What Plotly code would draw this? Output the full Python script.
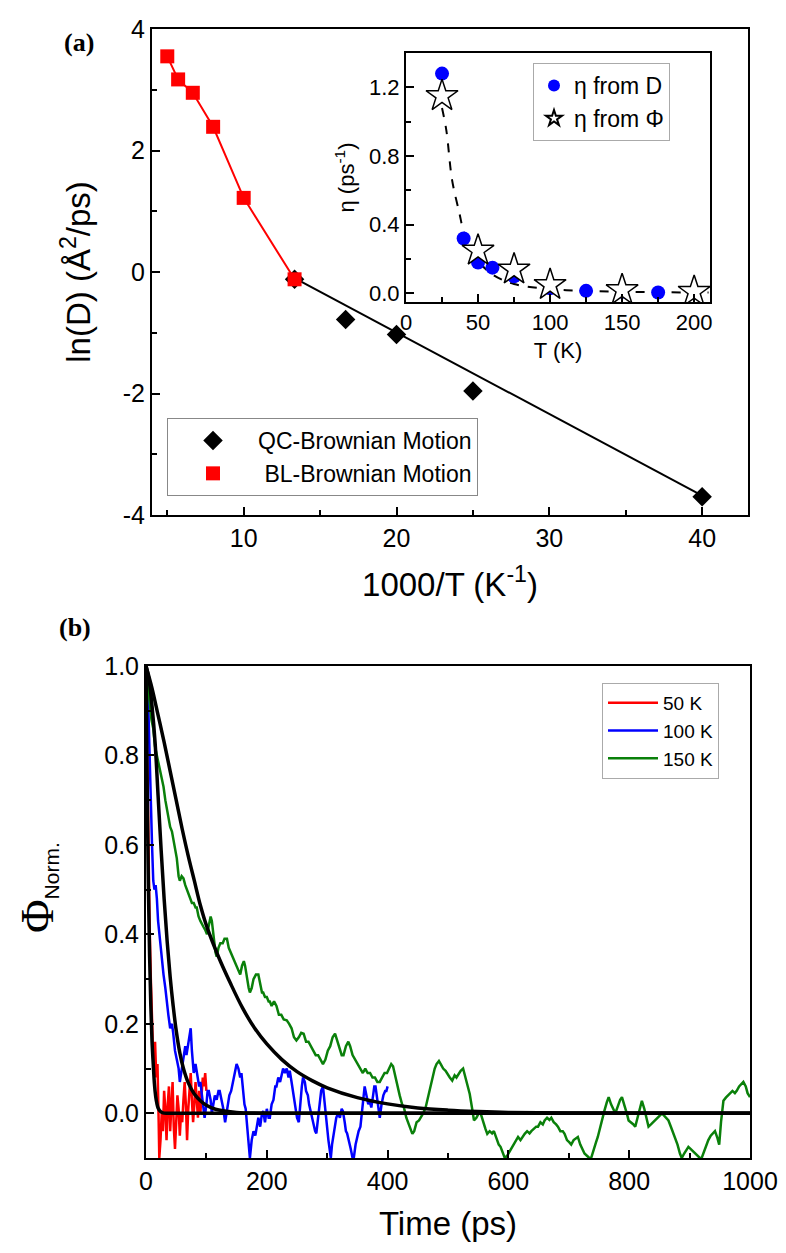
import plotly.graph_objects as go

# ---------------- Panel (a) data ----------------
QC_X = [13.33, 16.67, 20.0, 25.0, 40.0]
QC_Y = [-0.12, -0.78, -1.03, -1.96, -3.70]
QC_FIT_X = [13.33, 40.0]
QC_FIT_Y = [-0.10, -3.68]

BL_X = [5.0, 5.71, 6.67, 8.0, 10.0, 13.33]
BL_Y = [3.55, 3.17, 2.95, 2.39, 1.22, -0.12]

Y_TICKS = [-4, -2, 0, 2, 4]
Y_TICK_TEXT = ["-4", "-2", "0", "2", "4"]

# inset
ETA_D_T = [25, 40, 50, 60, 75, 100, 125, 150, 175, 200]
ETA_D_V = [1.28, 0.32, 0.18, 0.15, 0.10, 0.03, 0.015, 0.01, 0.005, 0.005]
ETA_PHI_T = [25, 50, 75, 100, 150, 200]
ETA_PHI_V = [1.15, 0.25, 0.14, 0.05, 0.02, 0.01]
ETA_FIT_T = [25, 28, 32, 37, 40, 45, 50, 60, 75, 100, 125, 150, 175, 200, 210]
ETA_FIT_V = [1.08, 0.95, 0.66, 0.47, 0.36, 0.26, 0.19, 0.11, 0.055, 0.025, 0.015, 0.01, 0.007, 0.005, 0.005]

# ---------------- Panel (b) data ----------------
RED = [(0, 1.0), (2, 0.78), (4, 0.58), (6, 0.42), (8, 0.30), (10, 0.20), (12, 0.12), (14, 0.10),
       (15, 0.16), (17, 0.08), (19, 0.11), (21, -0.02), (22, -0.10), (24, -0.06), (26, 0.0),
       (28, -0.04), (30, 0.05), (32, 0.01), (34, -0.06), (36, 0.02), (38, 0.06), (40, -0.04),
       (42, 0.01), (44, 0.07), (46, -0.03), (48, -0.08), (50, -0.02), (52, 0.04), (54, 0.01),
       (56, -0.05), (58, 0.0), (60, -0.02), (62, 0.03), (64, 0.07), (66, 0.02), (68, -0.06),
       (70, 0.01), (72, 0.05), (74, 0.09), (76, 0.03), (78, -0.02), (80, 0.02), (82, 0.07),
       (84, 0.03), (86, -0.01), (88, 0.05), (90, 0.0), (92, 0.04), (94, 0.08), (96, 0.06),
       (98, 0.09), (100, 0.05)]

BLUE = [(0, 1.0), (2, 0.95), (4, 0.9), (6, 0.8), (8, 0.68), (10, 0.6), (12, 0.52), (14, 0.5),
        (16, 0.51), (18, 0.48), (20, 0.43), (23, 0.39), (26, 0.34), (29, 0.31), (32, 0.28),
        (34, 0.25), (37, 0.22), (40, 0.19), (43, 0.2), (45, 0.18), (48, 0.14), (51, 0.12),
        (54, 0.1), (56, 0.07), (59, 0.1), (62, 0.12), (65, 0.15), (67, 0.13), (70, 0.16),
        (72, 0.18), (74, 0.19), (76, 0.14), (79, 0.09), (82, 0.11), (85, 0.085), (88, 0.06),
        (90, 0.07), (93, 0.04), (95, 0.02), (97, -0.01), (100, 0.02), (102, 0.05), (104, 0.05),
        (107, 0.03), (109, 0.0), (111, 0.02), (114, 0.04), (117, 0.03), (120, 0.05), (122, 0.05),
        (125, 0.03), (128, 0.01), (131, -0.02), (133, 0.0), (136, 0.02), (138, 0.04), (141, 0.05),
        (144, 0.07), (147, 0.09), (150, 0.11), (153, 0.1), (156, 0.08), (158, 0.09), (161, 0.05),
        (163, 0.02), (165, 0.01), (168, -0.04), (170, -0.07), (172, -0.1), (175, -0.06),
        (178, -0.04), (181, -0.05), (183, -0.03), (186, -0.01), (189, -0.03), (192, 0.0),
        (194, 0.005), (197, -0.02), (200, 0.01), (203, -0.01), (205, -0.01), (208, 0.02),
        (211, 0.03), (214, 0.06), (216, 0.06), (219, 0.08), (222, 0.07), (225, 0.09), (227, 0.1),
        (230, 0.09), (233, 0.1), (236, 0.08), (238, 0.095), (241, 0.07), (243, 0.05), (245, 0.035),
        (248, 0.01), (250, -0.01), (253, -0.02), (255, 0.02), (258, 0.06), (260, 0.08), (263, 0.07),
        (265, 0.05), (268, 0.04), (270, 0.02), (273, 0.0), (275, -0.01), (278, -0.03), (280, -0.04),
        (282, -0.045), (285, -0.01), (288, 0.03), (290, 0.05), (293, 0.06), (295, 0.03), (297, 0.0),
        (300, -0.04), (302, -0.06), (304, -0.08), (306, -0.1), (308, -0.07), (311, -0.04),
        (313, -0.02), (315, -0.01), (318, 0.0), (321, -0.01), (324, 0.01), (326, 0.005),
        (329, -0.02), (331, -0.04), (333, -0.045), (336, -0.06), (339, -0.08), (342, -0.1),
        (344, -0.1), (347, -0.07), (350, -0.05), (352, -0.04), (355, -0.03), (358, 0.01),
        (360, 0.04), (362, 0.06), (365, 0.04), (368, 0.02), (370, 0.03), (373, 0.013), (376, 0.04),
        (378, 0.06), (380, 0.06), (383, 0.03), (385, 0.0), (387, -0.01), (390, 0.02), (393, 0.04),
        (396, 0.05), (398, 0.05), (400, 0.06)]

GREEN = [(0, 1.0), (3, 0.96), (6, 0.91), (9, 0.88), (12, 0.86), (15, 0.82), (18, 0.80), (21, 0.78),
         (24, 0.76), (26, 0.745), (29, 0.73), (32, 0.7), (34, 0.685), (37, 0.66), (40, 0.64),
         (43, 0.63), (46, 0.61), (48, 0.596), (51, 0.57), (54, 0.53), (56, 0.52), (59, 0.53),
         (62, 0.525), (65, 0.51), (68, 0.5), (71, 0.49), (73, 0.484), (76, 0.47), (79, 0.47),
         (82, 0.46), (84, 0.46), (87, 0.44), (90, 0.43), (93, 0.42), (95, 0.417), (98, 0.41),
         (101, 0.4), (104, 0.42), (107, 0.44), (109, 0.43), (112, 0.39), (115, 0.36), (117, 0.35),
         (120, 0.37), (123, 0.38), (127, 0.38), (130, 0.39), (134, 0.39), (137, 0.37), (140, 0.36),
         (143, 0.35), (146, 0.34), (149, 0.33), (152, 0.32), (156, 0.31), (159, 0.33), (162, 0.34),
         (164, 0.33), (167, 0.3), (170, 0.28), (172, 0.27), (175, 0.28), (178, 0.3), (182, 0.31),
         (186, 0.31), (189, 0.29), (192, 0.27), (194, 0.27), (197, 0.26), (200, 0.26), (203, 0.25),
         (205, 0.25), (208, 0.24), (212, 0.25), (216, 0.24), (220, 0.22), (224, 0.22), (228, 0.21),
         (233, 0.208), (237, 0.2), (241, 0.19), (245, 0.17), (249, 0.163), (253, 0.17), (257, 0.18),
         (261, 0.178), (265, 0.16), (269, 0.16), (273, 0.15), (277, 0.14), (281, 0.13), (285, 0.13),
         (289, 0.12), (293, 0.11), (297, 0.12), (301, 0.14), (305, 0.15), (309, 0.17), (313, 0.178),
         (317, 0.16), (321, 0.14), (324, 0.13), (327, 0.13), (331, 0.15), (335, 0.16), (338, 0.15),
         (342, 0.13), (346, 0.12), (350, 0.11), (355, 0.1), (359, 0.09), (363, 0.1), (367, 0.09),
         (371, 0.09), (375, 0.08), (379, 0.08), (383, 0.07), (387, 0.07), (391, 0.08), (395, 0.09),
         (399, 0.09), (403, 0.1), (406, 0.11), (409, 0.105), (413, 0.08), (416, 0.06), (420, 0.04),
         (424, 0.02), (427, 0.013), (431, -0.01), (434, -0.02), (437, -0.03), (441, -0.046),
         (444, -0.04), (448, -0.02), (452, -0.016), (455, -0.01), (459, 0.0), (463, 0.013),
         (466, 0.03), (470, 0.06), (474, 0.08), (478, 0.1), (481, 0.11), (485, 0.117), (488, 0.11),
         (492, 0.1), (496, 0.095), (500, 0.085), (503, 0.08), (507, 0.073), (511, 0.085), (514, 0.08),
         (518, 0.09), (521, 0.095), (525, 0.1), (529, 0.08), (532, 0.06), (536, 0.043), (540, 0.01),
         (543, -0.016), (547, -0.01), (551, 0.0), (554, 0.0), (558, -0.02), (562, -0.035),
         (565, -0.046), (569, -0.04), (573, -0.045), (576, -0.04), (580, -0.055), (584, -0.07),
         (587, -0.075), (591, -0.09), (594, -0.1), (598, -0.095), (602, -0.085), (605, -0.08),
         (609, -0.07), (613, -0.06), (616, -0.053), (620, -0.06), (624, -0.05), (627, -0.046),
         (631, -0.04), (635, -0.045), (638, -0.04), (642, -0.035), (646, -0.03), (649, -0.03),
         (653, -0.02), (657, -0.025), (660, -0.016), (664, -0.01), (668, -0.015), (671, -0.01),
         (675, -0.02), (679, -0.025), (682, -0.03), (686, -0.04), (690, -0.04), (693, -0.046),
         (697, -0.06), (701, -0.065), (704, -0.07), (708, -0.06), (712, -0.055), (715, -0.053),
         (719, -0.07), (723, -0.08), (726, -0.09), (730, -0.095), (734, -0.1), (737, -0.1),
         (741, -0.08), (745, -0.065), (748, -0.053), (752, -0.03), (756, -0.01), (759, 0.006),
         (763, 0.025), (766, 0.036), (770, 0.02), (774, 0.01), (777, 0.0), (781, 0.015), (785, 0.03),
         (788, 0.036), (792, 0.02), (796, 0.0), (799, -0.016), (803, -0.02), (807, -0.025),
         (810, -0.03), (814, -0.01), (818, 0.01), (821, 0.028), (825, 0.01), (829, -0.015),
         (832, -0.03), (836, -0.025), (840, -0.02), (843, -0.016), (847, -0.01), (851, -0.005),
         (854, 0.0), (858, -0.005), (862, -0.01), (865, -0.016), (869, -0.03), (873, -0.045),
         (876, -0.053), (880, -0.07), (884, -0.09), (887, -0.1), (891, -0.09), (895, -0.08),
         (898, -0.075), (902, -0.08), (906, -0.085), (909, -0.09), (913, -0.095), (917, -0.1),
         (920, -0.1), (924, -0.085), (928, -0.07), (931, -0.06), (935, -0.05), (939, -0.045),
         (942, -0.04), (946, -0.055), (949, -0.07), (952, -0.02), (956, 0.028), (960, 0.035),
         (964, 0.04), (967, 0.043), (971, 0.05), (975, 0.045), (978, 0.05), (982, 0.06),
         (986, 0.065), (989, 0.07), (993, 0.06), (996, 0.045), (1000, 0.036)]

FIT50_T = [0, 2, 4, 6, 8, 10, 12, 14, 16, 18, 20, 24, 28, 35, 50, 100, 1000]
FIT50_V = [1.0, 0.72, 0.5, 0.35, 0.24, 0.16, 0.11, 0.065, 0.038, 0.022, 0.012, 0.004, 0.001, 0.0, 0.0, 0.0, 0.0]
FIT100_T = [0, 5, 10, 15, 20, 25, 30, 35, 40, 45, 50, 56, 62, 70, 80, 90, 100, 115, 130, 150, 200, 1000]
FIT100_V = [1.0, 0.97, 0.91, 0.83, 0.71, 0.59, 0.48, 0.385, 0.305, 0.24, 0.185, 0.135, 0.1, 0.068, 0.043,
            0.028, 0.018, 0.009, 0.005, 0.002, 0.0, 0.0]
FIT150_T = [0, 10, 20, 30, 40, 50, 60, 70, 80, 90, 100, 120, 140, 160, 180, 200, 225, 250, 275,
            300, 350, 400, 450, 500, 550, 600, 700, 1000]
FIT150_V = [1.0, 0.95, 0.89, 0.83, 0.765, 0.70, 0.635, 0.575, 0.52, 0.465, 0.42, 0.35, 0.29, 0.235,
            0.19, 0.155, 0.12, 0.093, 0.073, 0.057, 0.035, 0.021, 0.012, 0.007, 0.004, 0.002, 0.0005, 0.0]

SANS = "Liberation Sans, Arial, sans-serif"
SERIF = "Liberation Serif, Times New Roman, serif"
W, H = 786, 1253


def px_x(p):
    return p / W


def px_y(p):
    return 1 - p / H


fig = go.Figure()

# ---- panel (a) ----
fig.add_trace(go.Scatter(x=BL_X, y=BL_Y, mode="lines", line=dict(color="#ff0000", width=2),
                         showlegend=False, xaxis="x", yaxis="y"))
fig.add_trace(go.Scatter(x=QC_FIT_X, y=QC_FIT_Y, mode="lines", line=dict(color="black", width=2),
                         showlegend=False, xaxis="x", yaxis="y"))
fig.add_trace(go.Scatter(x=QC_X, y=QC_Y, mode="markers", name="QC-Brownian Motion",
                         marker=dict(symbol="diamond", size=15, color="black"),
                         xaxis="x", yaxis="y", legend="legend"))
fig.add_trace(go.Scatter(x=BL_X, y=BL_Y, mode="markers", name=" BL-Brownian Motion",
                         marker=dict(symbol="square", size=14, color="#ff0000"),
                         xaxis="x", yaxis="y", legend="legend"))

# ---- inset ----
fig.add_trace(go.Scatter(x=ETA_FIT_T, y=ETA_FIT_V, mode="lines",
                         line=dict(color="black", width=2, dash="dash"), line_shape="spline",
                         showlegend=False, xaxis="x2", yaxis="y2"))
fig.add_trace(go.Scatter(x=ETA_D_T, y=ETA_D_V, mode="markers", name="η from D",
                         marker=dict(symbol="circle", size=14, color="#0000ff"),
                         xaxis="x2", yaxis="y2", legend="legend2"))
fig.add_trace(go.Scatter(x=ETA_PHI_T, y=ETA_PHI_V, mode="markers", name="η from Φ",
                         marker=dict(symbol="star", size=24, color="white",
                                     line=dict(color="black", width=1.5)),
                         xaxis="x2", yaxis="y2", legend="legend2"))

# ---- panel (b) ----
for data, color, name in [(RED, "#ff0000", "50 K"), (BLUE, "#0000ff", "100 K"),
                          (GREEN, "#0a800a", "150 K")]:
    fig.add_trace(go.Scatter(x=[p[0] for p in data], y=[p[1] for p in data], mode="lines",
                             name=name, line=dict(color=color, width=2.5),
                             xaxis="x3", yaxis="y3", legend="legend3"))
for tt, vv in [(FIT50_T, FIT50_V), (FIT100_T, FIT100_V), (FIT150_T, FIT150_V)]:
    fig.add_trace(go.Scatter(x=tt, y=vv, mode="lines", line=dict(color="black", width=3.5),
                             line_shape="spline", showlegend=False, xaxis="x3", yaxis="y3"))


def ax(domain, rng, dtick, minor, anchor, tfs, fmt=None, title=None, tsize=32, standoff=None):
    d = dict(domain=domain, range=rng, dtick=dtick, tick0=0, ticks="inside", ticklen=8,
             tickwidth=2, tickcolor="black", showline=True, linewidth=2, linecolor="black",
             mirror=True, showgrid=False, zeroline=False, anchor=anchor, automargin=False,
             tickfont=dict(family=SANS, size=tfs, color="black"),
             minor=dict(dtick=minor, ticks="inside", ticklen=5, tickwidth=2, tickcolor="black",
                        showgrid=False))
    if fmt:
        d["tickformat"] = fmt
    if title:
        d["title"] = dict(text=title, font=dict(family=SANS, size=tsize, color="black"))
        if standoff is not None:
            d["title"]["standoff"] = standoff
    return d


yaxis_main = ax([px_y(515), px_y(29)], [-4, 4], 2, 1, "x", 25,
                title="ln(D) (Å<sup>2</sup>/ps)", tsize=33, standoff=22)
yaxis_main.update(tickvals=Y_TICKS, ticktext=Y_TICK_TEXT)

fig.update_layout(
    width=W, height=H, margin=dict(l=0, r=0, t=0, b=0, autoexpand=False),
    paper_bgcolor="white", plot_bgcolor="rgba(0,0,0,0)",
    xaxis=ax([px_x(152), px_x(748)], [4, 43], 10, 5, "y", 25,
             title="1000/T (K<sup>-1</sup>)", tsize=33, standoff=22),
    yaxis=yaxis_main,
    xaxis2=ax([px_x(406), px_x(710)], [0, 211], 50, 25, "y2", 22,
              title="T (K)", tsize=22, standoff=8),
    yaxis2=ax([px_y(302), px_y(53)], [-0.05, 1.4], 0.4, 0.2, "x2", 22, fmt=".1f",
              title="η (ps<sup>-1</sup>)", tsize=22, standoff=8),
    xaxis3=ax([px_x(146), px_x(750)], [0, 1000], 200, 100, "y3", 25,
              title="Time (ps)", tsize=33, standoff=18),
    yaxis3=ax([px_y(1158), px_y(666)], [-0.1, 1.0], 0.2, 0.1, "x3", 25, fmt=".1f"),
    legend=dict(x=px_x(167), y=px_y(418), xanchor="left", yanchor="top",
                bgcolor="white", bordercolor="#888888", borderwidth=1,
                font=dict(family=SANS, size=23, color="black"), itemwidth=80),
    legend2=dict(x=px_x(533), y=px_y(63), xanchor="left", yanchor="top",
                 bgcolor="white", bordercolor="#aaaaaa", borderwidth=1,
                 font=dict(family=SANS, size=23, color="black"), itemsizing="constant"),
    legend3=dict(x=px_x(602), y=px_y(683), xanchor="left", yanchor="top",
                 bgcolor="white", bordercolor="#aaaaaa", borderwidth=1,
                 font=dict(family=SANS, size=19, color="black"), itemwidth=50,
                 tracegroupgap=0),
    annotations=[
        dict(text="<b>(a)</b>", x=px_x(62), y=px_y(26), xref="paper", yref="paper",
             showarrow=False, font=dict(family=SERIF, size=26, color="black")),
        dict(text="<b>(b)</b>", x=px_x(57), y=px_y(627), xref="paper", yref="paper",
             showarrow=False, font=dict(family=SERIF, size=26, color="black")),
        dict(text='<span style="font-family:Liberation Serif;font-size:46px">Φ</span><sub>Norm.</sub>',
             x=px_x(10), y=px_y(935), xref="paper", yref="paper", textangle=-90,
             xanchor="left", showarrow=False, font=dict(family=SANS, size=30, color="black")),
    ],
)

fig.write_html("out.html", config={"displayModeBar": False},
               post_script="document.body.style.margin='0';document.body.style.overflow='hidden';")
